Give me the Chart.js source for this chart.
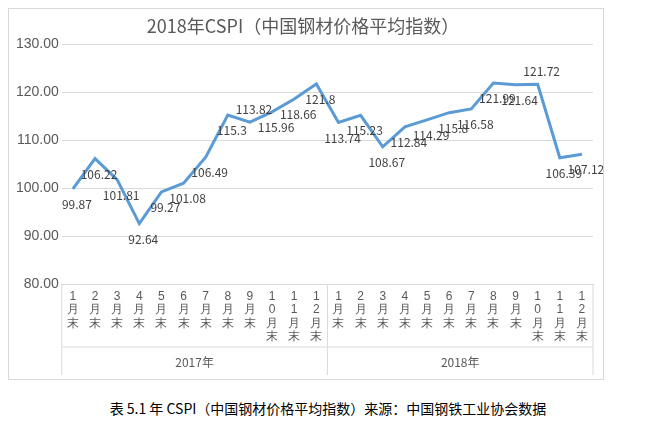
<!DOCTYPE html>
<html><head><meta charset="utf-8">
<script src="https://cdn.jsdelivr.net/npm/chart.js@4"></script>
<style>
body{margin:0;background:#fff;font-family:"Noto Sans CJK SC",sans-serif;}
#box{position:absolute;left:8px;top:8px;width:594px;height:370px;border:1px solid #d9d9d9;}
#cap{position:absolute;left:0;top:398px;width:656px;text-align:center;font-size:14px;color:#000;}
</style></head><body>
<div id="box"><canvas id="c" width="594" height="370"></canvas></div>
<div id="cap">表 5.1 年 CSPI（中国钢材价格平均指数）来源：中国钢铁工业协会数据</div>
<script>
var months = ['1','2','3','4','5','6','7','8','9','10','11','12'];
var years = ['2017年', '2018年'];
var cspi = [99.87,106.22,101.81,92.64,99.27,101.08,106.49,115.3,113.82,115.96,118.66,121.8,
            113.74,115.23,108.67,112.84,114.29,115.8,116.58,121.99,121.64,121.72,106.39,107.12];
var labels = [];
years.forEach(function(){ months.forEach(function(m){ labels.push(m.split('').concat(['月','末'])); }); });

var extras = {
  id:'extras',
  afterDatasetsDraw:function(chart){
    var ctx = chart.ctx, meta = chart.getDatasetMeta(0), x = chart.scales.x;
    ctx.save();
    ctx.font = '12px "Noto Sans CJK SC"'; ctx.fillStyle = '#404040'; ctx.textAlign = 'center';
    meta.data.forEach(function(p, i){
      var up = (i == 8 || i == 21);
      ctx.fillText(String(cspi[i]), p.x + 4, up ? p.y - 8 : p.y + 20);
    });
    // year row
    var bottom = chart.height - 4, top = bottom - 28;
    ctx.strokeStyle = '#d9d9d9'; ctx.lineWidth = 1;
    var half = (x.getPixelForValue(1) - x.getPixelForValue(0)) / 2;
    var l = x.getPixelForValue(0) - half, m = x.getPixelForValue(12) - half, r = x.getPixelForValue(23) + half;
    ctx.beginPath();
    [l, m, r].forEach(function(px){ ctx.moveTo(px, x.top); ctx.lineTo(px, bottom); });
    ctx.moveTo(l, top); ctx.lineTo(r, top);
    ctx.stroke();
    ctx.fillStyle = '#595959';
    ctx.fillText(years[0], (l+m)/2, bottom - 8);
    ctx.fillText(years[1], (m+r)/2, bottom - 8);
    ctx.restore();
  }
};

new Chart(document.getElementById('c'), {
  type:'line',
  data:{ labels:labels, datasets:[{ data:cspi, borderColor:'#5b9bd5', borderWidth:3, pointRadius:0, tension:0 }] },
  options:{
    responsive:false, animation:false,
    layout:{ padding:{ left:4, right:10, top:2, bottom:30 } },
    plugins:{
      legend:{ display:false }, tooltip:{ enabled:false },
      title:{ display:true, text:'2018年CSPI（中国钢材价格平均指数）', color:'#595959',
              font:{ size:18, family:'"Noto Sans CJK SC"', weight:'normal' }, padding:{ top:4, bottom:8 } }
    },
    scales:{
      y:{ min:80, max:130, ticks:{ stepSize:10, color:'#595959', font:{ size:14 }, callback:function(v){ return v.toFixed(2); } },
          grid:{ color:'#d9d9d9', drawTicks:false }, border:{ display:false } },
      x:{ offset:true, ticks:{ color:'#595959', font:{ size:12, lineHeight:1.1 }, maxRotation:0, autoSkip:false, padding:6 },
          grid:{ offset:true, drawOnChartArea:false, color:'#d9d9d9', tickLength:0 }, border:{ color:'#d9d9d9' } }
    }
  },
  plugins:[extras]
});
</script>
</body></html>
